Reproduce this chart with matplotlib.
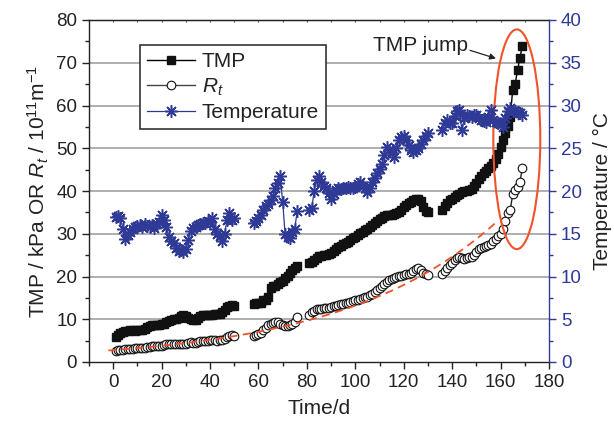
import numpy as np
import matplotlib
matplotlib.use("Agg")
import matplotlib.pyplot as plt
from matplotlib.lines import Line2D
from matplotlib.patches import Ellipse
from matplotlib.ticker import MultipleLocator

plt.rcParams['font.family'] = ['Liberation Sans', 'DejaVu Sans']
plt.rcParams['mathtext.fontset'] = 'custom'
plt.rcParams['mathtext.rm'] = 'Liberation Sans'
plt.rcParams['mathtext.it'] = 'Liberation Sans:italic'

# ---------------- data ----------------
days_seg1 = np.arange(1, 51)
days_seg2 = np.arange(58, 77)
days_seg3 = np.arange(81, 131)
days_seg4 = np.arange(136, 170)

tmp_seg1 = [5.8, 6.2, 6.8, 7.1, 7.3, 7.3, 7.4, 7.4, 7.3, 7.5,
            7.5, 7.6, 7.8, 8.1, 8.4, 8.6, 8.6, 8.7, 8.7, 8.8,
            8.9, 9.3, 9.6, 9.8, 10.0, 10.1, 10.4, 10.7, 10.9, 10.7,
            10.3, 10.0, 9.8, 9.9, 10.3, 10.7, 10.9, 11.0, 11.1, 11.1,
            11.1, 11.2, 11.2, 11.3, 11.6, 12.2, 12.8, 13.2, 13.3, 13.2]
tmp_seg2 = [13.6, 13.8, 13.8, 13.9, 14.5, 14.6, 15.3, 17.2, 17.7, 17.8,
            18.2, 18.6, 19.0, 19.7, 20.2, 20.8, 21.5, 22.1, 22.4]
tmp_seg3 = [23.2, 23.4, 23.8, 24.4, 24.7, 24.8, 25.0, 25.0, 25.3, 25.5,
            26.0, 26.5, 26.8, 27.1, 27.5, 27.8, 28.1, 28.5, 28.9, 29.2,
            29.6, 30.1, 30.5, 30.8, 31.2, 31.5, 32.0, 32.5, 32.9, 33.4,
            33.8, 34.2, 34.3, 34.3, 34.4, 34.6, 34.9, 35.1, 35.6, 36.2,
            36.7, 37.1, 37.4, 37.8, 38.1, 38.2, 37.6, 36.3, 35.3, 35.1]
tmp_seg4 = [35.5, 36.6, 37.3, 37.8, 38.2, 38.7, 39.1, 39.4, 39.7, 39.9,
            40.0, 40.2, 40.5, 41.1, 41.9, 42.8, 43.5, 44.1, 44.7, 45.3,
            45.9, 46.6, 47.5, 48.7, 50.3, 52.0, 53.5, 55.3, 57.4, 63.6,
            65.0, 68.2, 71.2, 74.0]

rt_seg1 = [2.6, 2.7, 2.8, 2.9, 3.0, 3.0, 3.1, 3.1, 3.2, 3.2,
           3.3, 3.2, 3.3, 3.4, 3.6, 3.7, 3.8, 3.7, 3.7, 3.8,
           3.9, 4.1, 4.2, 4.1, 4.1, 4.2, 4.3, 4.2, 4.2, 4.3,
           4.5, 4.6, 4.5, 4.5, 4.6, 4.8, 4.9, 5.0, 4.9, 5.1,
           5.2, 5.1, 5.0, 5.1, 5.2, 5.4, 5.8, 6.1, 6.2, 6.0]
rt_seg2 = [6.0, 6.2, 6.5, 6.9, 7.4, 7.9, 8.6, 9.0, 9.2, 9.4,
           9.3, 9.0, 8.6, 8.4, 8.5, 8.7, 9.0, 9.3, 10.5]
rt_seg3 = [11.0, 11.6, 12.0, 12.3, 12.5, 12.4, 12.6, 12.7, 12.6, 12.8,
           13.0, 13.2, 13.4, 13.5, 13.6, 13.8, 13.9, 14.1, 14.2, 14.4,
           14.6, 14.8, 15.0, 15.1, 15.3, 15.6, 15.9, 16.3, 16.8, 17.3,
           17.8, 18.3, 18.8, 19.1, 19.3, 19.6, 19.9, 20.1, 20.2, 20.4,
           20.5, 20.6, 20.8, 21.2, 21.7, 22.0, 21.6, 20.9, 20.5, 20.4]
rt_seg4 = [20.7, 21.3, 22.0, 22.7, 23.2, 23.8, 24.4, 24.6, 24.3, 24.2,
           24.3, 24.5, 24.6, 25.1, 25.8, 26.4, 26.7, 26.9, 27.1, 27.3,
           27.7, 28.2, 28.8, 29.4, 30.0, 31.2, 33.0, 34.8, 35.5, 39.3,
           40.2, 41.0, 42.2, 45.3]

temp_seg1 = [17.0, 17.1, 16.9, 15.6, 14.4, 14.8, 15.2, 15.5, 15.8, 15.9,
             16.0, 15.8, 16.1, 15.9, 15.8, 16.0, 15.7, 16.1, 16.4, 17.2,
             16.6, 15.8, 14.6, 14.1, 13.9, 13.3, 13.0, 13.1, 12.9, 13.2,
             14.3, 15.3, 15.7, 15.8, 16.0, 16.1, 16.3, 16.2, 16.5, 16.4,
             16.8, 15.6, 15.0, 14.7, 14.2, 15.0, 16.6, 17.4, 16.6, 16.9]
temp_seg2 = [16.3, 16.5, 16.8, 17.2, 17.8, 18.2, 18.5, 18.9, 19.4, 20.4,
             20.9, 21.7, 18.7, 15.0, 14.6, 14.5, 15.2, 15.6, 17.7]
temp_seg3 = [17.8, 18.0, 20.0, 21.3, 21.8, 21.0, 20.6, 20.3, 19.8, 19.1,
             19.6, 20.1, 20.3, 20.2, 20.4, 20.3, 20.5, 20.3, 20.4, 20.5,
             20.8, 21.1, 20.6, 20.3, 19.9, 20.4, 21.0, 21.5, 22.1, 22.6,
             23.1, 24.2, 25.2, 24.8, 24.4, 24.0, 25.0, 26.0, 26.3, 26.4,
             26.0, 25.4, 24.8, 24.6, 24.8, 25.0, 25.5, 26.0, 26.4, 26.8]
temp_seg4 = [27.1, 28.0, 28.3, 28.0, 27.9, 28.8, 29.3, 29.5, 27.1, 28.5,
             28.9, 28.8, 28.7, 28.9, 28.9, 28.5, 28.3, 28.2, 28.1, 28.6,
             29.5, 28.3, 28.1, 27.9, 27.8, 27.5, 28.5, 29.3, 29.7, 29.4,
             29.3, 29.2, 29.1, 28.9]

# exponential trend fitted to R_t (parameters)
fit_a = 2.78
fit_b = 0.01558
fit_start, fit_end = -2.0, 158.5

# annotation geometry (data units)
ell_center = (166.7, 52.1)
ell_width, ell_height = 19.4, 51.4
jump_text_xy = (126.8, 74.0)
jump_arrow_from = (147.4, 72.9)
jump_arrow_to = (158.1, 71.0)

BLUE = '#2e3a96'
RED = '#f0522a'


def join(segments):
    xs, ys = [], []
    for d, v in segments:
        xs.extend(list(d) + [np.nan])
        ys.extend(list(v) + [np.nan])
    return np.array(xs, float), np.array(ys, float)


day_segs = [days_seg1, days_seg2, days_seg3, days_seg4]
tx, ty = join(zip(day_segs, [tmp_seg1, tmp_seg2, tmp_seg3, tmp_seg4]))
rx, ry = join(zip(day_segs, [rt_seg1, rt_seg2, rt_seg3, rt_seg4]))
wx, wy = join(zip(day_segs, [temp_seg1, temp_seg2, temp_seg3, temp_seg4]))

fig = plt.figure(figsize=(6.14, 4.24), dpi=100)
ax = fig.add_axes([89 / 614, 1 - 362 / 424, 460 / 614, 342 / 424])
ax2 = ax.twinx()

ax.set_xlim(-10, 180)
ax.set_ylim(0, 80)
ax2.set_ylim(0, 40)

for y in range(10, 80, 10):
    ax.axhline(y, color='#a8a8a8', lw=1.3, zorder=0)

ast = (8, 2, 0)
l_tmp, = ax.plot(tx, ty, '-', color='black', lw=1.0, marker='s', ms=5.2,
                 mfc='#111111', mec='#111111', zorder=3)
l_rt, = ax.plot(rx, ry, '-', color='#222222', lw=1.0, marker='o', ms=6.2,
                mfc='white', mec='#111111', mew=0.8, zorder=3)
fx = np.linspace(fit_start, fit_end, 200)
ax.plot(fx, fit_a * np.exp(fit_b * fx), color=RED, lw=1.3, dashes=(4.5, 3), zorder=4)

l_t, = ax2.plot(wx, wy, '-', color=BLUE, lw=0.9, marker=ast, ms=9, mec=BLUE,
                mew=1.1, zorder=3)

ax.add_patch(Ellipse(ell_center, ell_width, ell_height, fill=False,
                     edgecolor=RED, lw=1.5, zorder=5))
ax.text(*jump_text_xy, 'TMP jump', fontsize=15, ha='center', va='center',
        color='#222222', zorder=6)
ax.annotate('', xy=jump_arrow_to, xytext=jump_arrow_from,
            arrowprops=dict(arrowstyle='-|>', color='#222222', lw=0.9,
                            mutation_scale=9, shrinkA=0, shrinkB=0), zorder=6)

# ticks
ax.xaxis.set_major_locator(MultipleLocator(20))
ax.xaxis.set_minor_locator(MultipleLocator(10))
ax.yaxis.set_major_locator(MultipleLocator(10))
ax.yaxis.set_minor_locator(MultipleLocator(5))
ax2.yaxis.set_major_locator(MultipleLocator(5))
ax2.yaxis.set_minor_locator(MultipleLocator(2.5))
ax.set_xticks(range(0, 181, 20))

ax.tick_params(axis='both', which='major', direction='out', length=5, width=1,
               labelsize=13.5, color='#222222', labelcolor='#222222')
ax.tick_params(axis='both', which='minor', direction='out', length=2.8, width=1,
               color='#222222')
ax.tick_params(axis='y', which='both', right=False)
ax.tick_params(axis='x', which='both', top=False)

# tiny inward ticks on the top spine
axt = ax.secondary_xaxis('top')
axt.xaxis.set_major_locator(MultipleLocator(20))
axt.xaxis.set_minor_locator(MultipleLocator(10))
axt.tick_params(axis='x', which='both', direction='in', length=1.5, width=0.8,
                color='#555555', labeltop=False)
axt.spines['top'].set_color('#222222')

ax2.tick_params(axis='y', which='major', direction='out', length=5, width=1,
                labelsize=13.5, colors=BLUE)
ax2.tick_params(axis='y', which='minor', direction='out', length=2.8, width=1,
                colors=BLUE)

for s in ['left', 'bottom', 'top']:
    ax.spines[s].set_color('#222222')
    ax.spines[s].set_linewidth(1.0)
ax2.spines['right'].set_color(BLUE)
ax2.spines['right'].set_linewidth(1.0)
ax2.spines['left'].set_visible(False)
ax2.spines['top'].set_visible(False)
ax2.spines['bottom'].set_visible(False)
ax.spines['right'].set_visible(False)

ax.set_xlabel('Time/d', fontsize=15, color='#222222', labelpad=6)
ax.set_ylabel(r'TMP / kPa OR $R_t$ / 10$^{11}$m$^{-1}$', fontsize=15,
              color='#222222', labelpad=4)
ax2.set_ylabel('Temperature / °C', fontsize=15, color='#222222', labelpad=8)

handles = [Line2D([], [], color='black', lw=1.0, marker='s', ms=5.2, mfc='#111111', mec='#111111'),
           Line2D([], [], color='#444444', lw=1.0, marker='o', ms=6.2, mfc='white', mec='#111111', mew=0.8),
           Line2D([], [], color=BLUE, lw=0.9, marker=ast, ms=9, mec=BLUE, mew=1.1)]
leg = ax2.legend(handles, ['TMP', r'$R_t$', 'Temperature'], loc='upper left',
                 bbox_to_anchor=(0.111, 0.927), fontsize=15, numpoints=1,
                 handlelength=2.3, handletextpad=0.3, labelspacing=0.25,
                 borderpad=0.35, borderaxespad=0, fancybox=False, framealpha=1,
                 edgecolor='#333333')
leg.get_frame().set_linewidth(1.2)
for t in leg.get_texts():
    t.set_color('#222222')

fig.savefig('out.png', dpi=100)
